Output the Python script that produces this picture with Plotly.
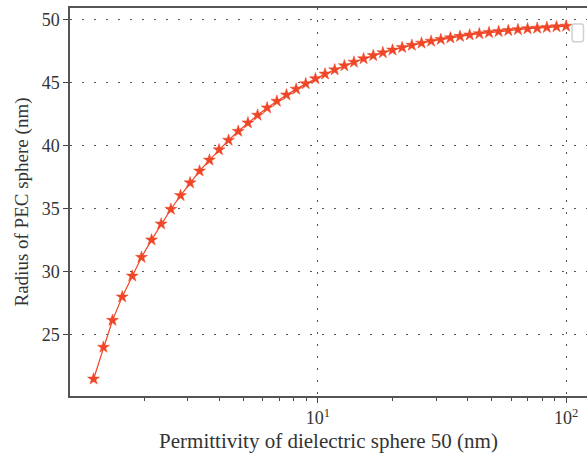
import plotly.graph_objects as go

permittivity = [1.25, 1.37, 1.49, 1.63, 1.79, 1.95, 2.14, 2.34, 2.56, 2.80,
                3.06, 3.34, 3.66, 4.00, 4.37, 4.78, 5.23, 5.72, 6.25, 6.84,
                7.48, 8.18, 8.94, 9.78, 10.69, 11.69, 12.79, 13.98, 15.29, 16.72,
                18.28, 19.99, 21.86, 23.91, 26.15, 28.59, 31.27, 34.19, 37.39, 40.89,
                44.72, 48.90, 53.47, 58.48, 63.95, 69.93, 76.47, 83.62, 91.45, 100.0]
radius = [21.45, 23.98, 26.12, 27.98, 29.64, 31.13, 32.51, 33.78, 34.95, 36.04,
          37.05, 37.99, 38.86, 39.68, 40.44, 41.15, 41.82, 42.43, 43.01, 43.54,
          44.04, 44.50, 44.93, 45.33, 45.70, 46.04, 46.36, 46.65, 46.92, 47.17,
          47.40, 47.61, 47.81, 47.99, 48.16, 48.31, 48.45, 48.58, 48.70, 48.81,
          48.91, 49.00, 49.08, 49.16, 49.23, 49.30, 49.35, 49.41, 49.46, 49.51]

x_tickvals = [10, 100]
x_ticktext = ["10<sup>1</sup>", "10<sup>2</sup>"]
x_minor = [2, 3, 4, 5, 6, 7, 8, 9, 20, 30, 40, 50, 60, 70, 80, 90]
y_tickvals = [25, 30, 35, 40, 45, 50]

color = "#EE4626"
font_family = "Liberation Serif"

fig = go.Figure()
fig.add_trace(go.Scatter(
    x=permittivity, y=radius, mode="lines+markers",
    line=dict(color=color, width=1.2),
    marker=dict(symbol="star", size=9, color=color, line=dict(color=color, width=0.5)),
    showlegend=False,
))

fig.update_layout(
    width=587, height=462,
    margin=dict(l=70, r=0, t=8, b=66),
    plot_bgcolor="white", paper_bgcolor="white",
    font=dict(family=font_family, size=18, color="#333"),
    showlegend=False,
    xaxis=dict(
        type="log", range=[0.002, 2.084],
        tickvals=x_tickvals, ticktext=x_ticktext,
        ticks="outside", ticklen=5, tickwidth=1, tickcolor="#444",
        showline=True, linecolor="#555", linewidth=1.5, mirror=True,
        showgrid=True, gridcolor="#555", gridwidth=1, griddash="2px,10px",
        zeroline=False,
        minor=dict(tickvals=x_minor, ticks="outside", ticklen=3, tickcolor="#444", showgrid=False),
        title=dict(text="Permittivity of dielectric sphere 50 (nm)", font=dict(size=21, family=font_family), standoff=6),
        tickfont=dict(size=18, family=font_family),
    ),
    yaxis=dict(
        range=[20.1, 50.95],
        tickvals=y_tickvals,
        ticks="outside", ticklen=5, tickwidth=1, tickcolor="#444",
        showline=True, linecolor="#555", linewidth=1.5, mirror=False,
        showgrid=True, gridcolor="#555", gridwidth=1, griddash="2px,10px",
        zeroline=False,
        title=dict(text="Radius of PEC sphere (nm)", font=dict(size=19, family=font_family), standoff=8),
        tickfont=dict(size=18, family=font_family),
    ),
    shapes=[
        dict(type="path", xref="paper", yref="paper",
             path="M 0.9745 0.9589 L 0.9898 0.9589 Q 0.9932 0.9589 0.9932 0.9497 L 0.9932 0.9221 Q 0.9932 0.9129 0.9898 0.9129 L 0.9745 0.9129 Q 0.9711 0.9129 0.9711 0.9221 L 0.9711 0.9497 Q 0.9711 0.9589 0.9745 0.9589 Z",
             line=dict(color="#d0d0d0", width=1.5), fillcolor="white"),
    ],
)

fig.write_html("out.html")
